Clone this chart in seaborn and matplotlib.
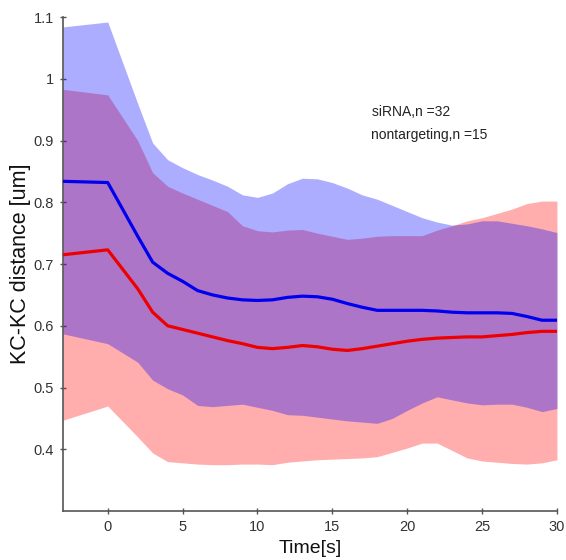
import numpy as np
import pandas as pd
import matplotlib
matplotlib.use("Agg")
import matplotlib.pyplot as plt
import seaborn as sns

# ---- data ----
time = [-3, 0, 2, 3, 4, 5, 6, 7, 8, 9, 10, 11, 12, 13, 14, 15, 16, 17, 18, 19, 20, 21, 22, 23, 24, 25, 26, 27, 28, 29, 30]

blue_mean = [0.834, 0.832, 0.745, 0.703, 0.685, 0.672, 0.657, 0.650, 0.645, 0.642, 0.641, 0.642, 0.646, 0.648, 0.647, 0.643, 0.636, 0.630, 0.625, 0.625, 0.625, 0.625, 0.624, 0.622, 0.621, 0.621, 0.621, 0.620, 0.615, 0.609, 0.609]
blue_upper = [1.084, 1.092, 0.960, 0.896, 0.869, 0.856, 0.845, 0.836, 0.826, 0.812, 0.808, 0.815, 0.830, 0.839, 0.838, 0.832, 0.823, 0.812, 0.805, 0.795, 0.785, 0.775, 0.768, 0.763, 0.765, 0.770, 0.770, 0.766, 0.762, 0.757, 0.751]
blue_lower = [0.587, 0.571, 0.541, 0.512, 0.498, 0.488, 0.471, 0.469, 0.471, 0.473, 0.468, 0.463, 0.456, 0.455, 0.452, 0.449, 0.446, 0.444, 0.442, 0.450, 0.463, 0.475, 0.485, 0.480, 0.475, 0.472, 0.473, 0.473, 0.468, 0.461, 0.466]

red_mean = [0.715, 0.723, 0.660, 0.622, 0.600, 0.594, 0.588, 0.582, 0.576, 0.571, 0.565, 0.563, 0.565, 0.568, 0.566, 0.562, 0.560, 0.563, 0.567, 0.571, 0.575, 0.578, 0.580, 0.581, 0.582, 0.582, 0.584, 0.586, 0.589, 0.591, 0.591]
red_upper = [0.983, 0.974, 0.900, 0.848, 0.826, 0.815, 0.805, 0.795, 0.785, 0.762, 0.754, 0.752, 0.755, 0.756, 0.750, 0.745, 0.740, 0.742, 0.745, 0.746, 0.746, 0.746, 0.755, 0.762, 0.770, 0.775, 0.782, 0.789, 0.798, 0.802, 0.802]
red_lower = [0.447, 0.470, 0.420, 0.394, 0.380, 0.378, 0.376, 0.375, 0.375, 0.376, 0.376, 0.375, 0.379, 0.381, 0.383, 0.384, 0.385, 0.386, 0.388, 0.395, 0.402, 0.410, 0.410, 0.398, 0.386, 0.381, 0.379, 0.377, 0.376, 0.378, 0.383]

annotations = ["siRNA,n =32", "nontargeting,n =15"]
x_ticks = [0, 5, 10, 15, 20, 25, 30]
y_ticks = [0.4, 0.5, 0.6, 0.7, 0.8, 0.9, 1.0, 1.1]
y_ticklabels = ["0.4", "0.5", "0.6", "0.7", "0.8", "0.9", "1", "1.1"]

df = pd.DataFrame({
    "time": time * 2,
    "mean": blue_mean + red_mean,
    "group": ["blue"] * len(time) + ["red"] * len(time),
})

sns.set_style("white")
plt.rcParams["font.family"] = ["Liberation Sans", "DejaVu Sans"]

fig = plt.figure(figsize=(5.66, 5.6), dpi=100)
ax = fig.add_axes([0.111, 0.0875, 0.873, 0.882])

alpha = 0.32
ax.fill_between(time, red_lower, red_upper, color=(1, 0, 0), alpha=alpha, linewidth=0)
ax.fill_between(time, blue_lower, blue_upper, color=(0, 0, 1), alpha=alpha, linewidth=0)

sns.lineplot(data=df, x="time", y="mean", hue="group",
             palette={"blue": "#0000ee", "red": "#ee0000"},
             linewidth=2.3, legend=False, ax=ax, zorder=3)

ax.set_xlim(-3, 30)
ax.set_ylim(0.3, 1.1)
ax.set_xticks(x_ticks)
ax.set_xticklabels([str(t) for t in x_ticks])
ax.set_yticks(y_ticks)
ax.set_yticklabels(y_ticklabels)

for s in ["top", "right"]:
    ax.spines[s].set_visible(False)
for s in ["left", "bottom"]:
    ax.spines[s].set_color("#555555")
    ax.spines[s].set_linewidth(1.2)

ax.tick_params(bottom=True, left=True, direction="inout", length=5, width=1,
               colors="#555555", labelcolor="#333333", labelsize=10.5, pad=4)

ax.set_xlabel("Time[s]", fontsize=14, color="#111111", labelpad=4)
ax.set_ylabel("KC-KC distance [um]", fontsize=15.5, color="#111111", labelpad=2)

ax.text(0.626, 0.808, annotations[0], transform=ax.transAxes, fontsize=10,
        color="#222222", va="center", ha="left")
ax.text(0.624, 0.761, annotations[1], transform=ax.transAxes, fontsize=10,
        color="#222222", va="center", ha="left")

fig.savefig("out.png", dpi=100, facecolor="white")
